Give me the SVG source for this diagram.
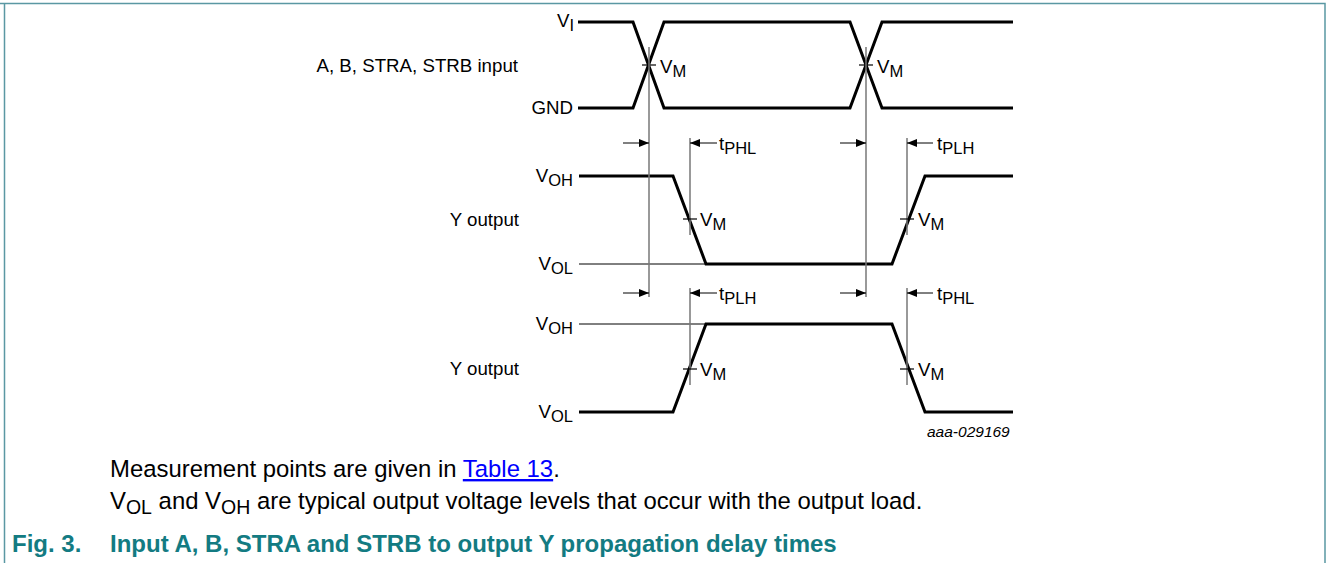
<svg xmlns="http://www.w3.org/2000/svg" width="1326" height="563" viewBox="0 0 1326 563">
<defs>
<style>
text{font-family:"Liberation Sans",Arial,sans-serif;fill:#000}
.lbl{font-size:18.7px}
.sub{font-size:16.5px}
.sig{fill:none;stroke:#000;stroke-width:3;stroke-linejoin:miter}
.ref{fill:none;stroke:#777;stroke-width:1.5}
.thin{fill:none;stroke:#000;stroke-width:1}
.tick{fill:none;stroke:#000;stroke-width:1.2}
.arr{fill:none;stroke:#000;stroke-width:1;marker-end:url(#ah)}
.cap{font-size:23.9px}
.capsub{font-size:19.5px}
.fig{font-size:24px;font-weight:bold;fill:#137b82}
</style>
<marker id="ah" markerWidth="10" markerHeight="8" refX="10" refY="4" orient="auto" markerUnits="userSpaceOnUse">
<path d="M0,0 L10,4 L0,8 Z" fill="#000"/>
</marker>
</defs>
<rect width="1326" height="563" fill="#fff"/>
<path d="M0,3.5 H1325 V563 M4.5,3.5 V563" fill="none" stroke="#5a98a3" stroke-width="1.5"/>

<g id="input">
<text class="lbl" x="518" y="72" text-anchor="end">A, B, STRA, STRB input</text>
<text class="lbl" x="574" y="27" text-anchor="end">V<tspan class="sub" dy="4">I</tspan></text>
<text class="lbl" x="573" y="114" text-anchor="end">GND</text>
<polyline class="sig" points="578,22 633,22 664,108 850,108 882,22 1013,22"/>
<polyline class="sig" points="578,108 633,108 664,22 850,22 882,108 1013,108"/>
<line class="tick" x1="642" y1="65" x2="656" y2="65"/>
<line class="tick" x1="859" y1="65" x2="873" y2="65"/>
<text class="lbl" x="660" y="73">V<tspan class="sub" dy="4">M</tspan></text>
<text class="lbl" x="877" y="73">V<tspan class="sub" dy="4">M</tspan></text>
</g>

<g id="output1">
<text class="lbl" x="519" y="226" text-anchor="end">Y output</text>
<text class="lbl" x="573" y="182" text-anchor="end">V<tspan class="sub" dy="4">OH</tspan></text>
<text class="lbl" x="573" y="270" text-anchor="end">V<tspan class="sub" dy="4">OL</tspan></text>
<line class="thin" x1="579" y1="264" x2="706" y2="264"/>
<polyline class="sig" points="579,176 673,176 706,264 892,264 925,176 1013,176"/>
<line class="ref" x1="690" y1="138" x2="690" y2="235"/>
<line class="ref" x1="907" y1="138" x2="907" y2="235"/>
<line class="tick" x1="683" y1="219" x2="697" y2="219"/>
<line class="tick" x1="900" y1="219" x2="914" y2="219"/>
<text class="lbl" x="700" y="226">V<tspan class="sub" dy="4">M</tspan></text>
<text class="lbl" x="918" y="226">V<tspan class="sub" dy="4">M</tspan></text>
<text class="lbl" x="719" y="150">t<tspan class="sub" dy="4">PHL</tspan></text>
<text class="lbl" x="937" y="150">t<tspan class="sub" dy="4">PLH</tspan></text>
</g>

<g id="output2">
<text class="lbl" x="519" y="375" text-anchor="end">Y output</text>
<text class="lbl" x="573" y="330" text-anchor="end">V<tspan class="sub" dy="4">OH</tspan></text>
<text class="lbl" x="573" y="418" text-anchor="end">V<tspan class="sub" dy="4">OL</tspan></text>
<line class="thin" x1="579" y1="324" x2="706" y2="324"/>
<polyline class="sig" points="579,412 673,412 706,324 892,324 925,412 1013,412"/>
<line class="ref" x1="690" y1="288" x2="690" y2="385"/>
<line class="ref" x1="907" y1="288" x2="907" y2="385"/>
<line class="tick" x1="683" y1="369" x2="697" y2="369"/>
<line class="tick" x1="900" y1="369" x2="914" y2="369"/>
<text class="lbl" x="700" y="376">V<tspan class="sub" dy="4">M</tspan></text>
<text class="lbl" x="918" y="376">V<tspan class="sub" dy="4">M</tspan></text>
<text class="lbl" x="719" y="300">t<tspan class="sub" dy="4">PLH</tspan></text>
<text class="lbl" x="937" y="300">t<tspan class="sub" dy="4">PHL</tspan></text>
<text x="927" y="437" style="font-size:15.5px;font-style:italic">aaa-029169</text>
</g>

<g id="connectors">
<line class="ref" x1="649" y1="47" x2="649" y2="297"/>
<line class="ref" x1="866" y1="47" x2="866" y2="297"/>
<line class="arr" x1="623" y1="143" x2="649" y2="143"/>
<line class="arr" x1="717" y1="143" x2="690" y2="143"/>
<line class="arr" x1="840" y1="143" x2="866" y2="143"/>
<line class="arr" x1="933" y1="143" x2="907" y2="143"/>
<line class="arr" x1="623" y1="293" x2="649" y2="293"/>
<line class="arr" x1="717" y1="293" x2="690" y2="293"/>
<line class="arr" x1="840" y1="293" x2="866" y2="293"/>
<line class="arr" x1="933" y1="293" x2="907" y2="293"/>
</g>

<g id="caption">
<text class="cap" x="110" y="477">Measurement points are given in <tspan fill="#0000ff" text-decoration="underline">Table 13</tspan>.</text>
<text class="cap" x="110" y="509">V<tspan class="capsub" dy="5">OL</tspan><tspan dy="-5"> and V</tspan><tspan class="capsub" dy="5">OH</tspan><tspan dy="-5"> are typical output voltage levels that occur with the output load.</tspan></text>
<text class="fig" x="12" y="552">Fig. 3.</text>
<text class="fig" x="110" y="552">Input A, B, STRA and STRB to output Y propagation delay times</text>
</g>
</svg>
